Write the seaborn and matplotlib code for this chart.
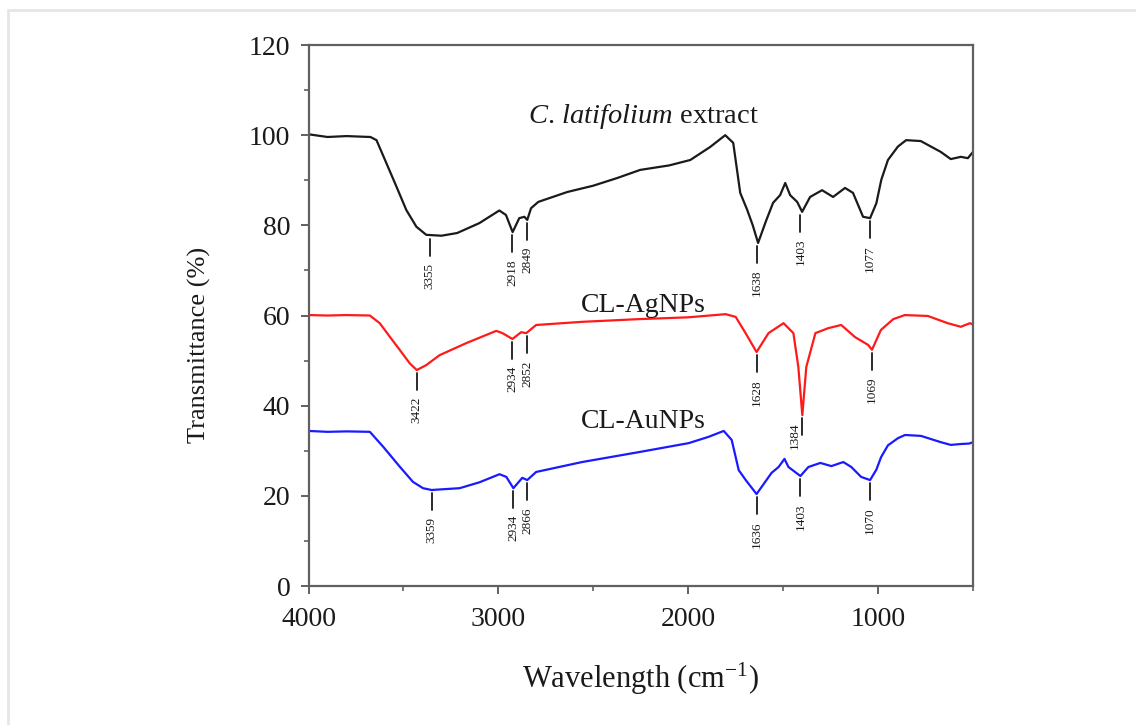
import matplotlib
matplotlib.use('Agg')
import matplotlib.pyplot as plt
from matplotlib.ticker import MultipleLocator
from matplotlib.lines import Line2D
import seaborn as sns
import pandas as pd

# FTIR spectra (wavenumber, transmittance %)
extract_wn = [4000, 3900, 3800, 3674, 3642, 3590, 3537, 3485, 3432, 3380, 3300, 3217, 3100,
              2995, 2960, 2925, 2890, 2863, 2848, 2828, 2790, 2637, 2500, 2374, 2253, 2100,
              1989, 1884, 1805, 1763, 1726, 1689, 1660, 1632, 1590, 1553, 1516, 1489, 1463,
              1426, 1400, 1358, 1295, 1237, 1174, 1132, 1079, 1042, 1009, 983, 948, 895, 852,
              775, 670, 617, 564, 527, 500]
extract_t = [100.2, 99.6, 99.8, 99.6, 98.9, 93.8, 88.6, 83.4, 79.7, 77.9, 77.7, 78.3, 80.5,
             83.3, 82.3, 78.5, 81.6, 81.9, 81.2, 83.8, 85.2, 87.4, 88.8, 90.5, 92.3, 93.3,
             94.5, 97.4, 100.0, 98.3, 87.2, 83.4, 80.0, 76.1, 81.0, 85.0, 86.7, 89.4, 86.7,
             85.2, 83.0, 86.3, 87.8, 86.3, 88.3, 87.2, 81.9, 81.6, 84.9, 90.1, 94.5, 97.5,
             98.9, 98.7, 96.3, 94.7, 95.2, 94.9, 96.3]

agnp_wn = [4000, 3900, 3800, 3677, 3625, 3572, 3520, 3467, 3430, 3380, 3310, 3168, 3011,
           2979, 2926, 2880, 2853, 2801, 2559, 2260, 2000, 1803, 1750, 1698, 1640, 1577,
           1498, 1446, 1420, 1399, 1378, 1330, 1262, 1194, 1121, 1053, 1032, 985, 920, 859,
           738, 633, 564, 516, 500]
agnp_t = [60.1, 60.0, 60.1, 60.0, 58.3, 55.3, 52.4, 49.4, 47.9, 49.0, 51.2, 53.9, 56.6,
          56.1, 54.8, 56.3, 56.1, 57.9, 58.6, 59.2, 59.6, 60.3, 59.7, 56.1, 51.9, 56.1,
          58.3, 56.1, 48.6, 37.9, 48.6, 56.1, 57.2, 57.9, 55.2, 53.5, 52.4, 56.8, 59.2,
          60.1, 59.9, 58.3, 57.5, 58.3, 58.0]

aunp_wn = [4000, 3900, 3800, 3677, 3607, 3520, 3450, 3397, 3352, 3204, 3100, 2994, 2958,
           2921, 2874, 2848, 2801, 2559, 2260, 1997, 1892, 1813, 1771, 1734, 1697, 1640,
           1561, 1524, 1493, 1472, 1409, 1367, 1304, 1246, 1183, 1141, 1089, 1042, 1009,
           984, 948, 895, 858, 774, 669, 617, 564, 520, 500]
aunp_t = [34.4, 34.2, 34.3, 34.2, 30.9, 26.5, 23.1, 21.7, 21.3, 21.7, 23.0, 24.8, 24.2,
          21.7, 24.0, 23.5, 25.3, 27.5, 29.7, 31.7, 33.1, 34.4, 32.4, 25.7, 23.5, 20.4,
          25.1, 26.4, 28.2, 26.4, 24.4, 26.4, 27.3, 26.6, 27.5, 26.4, 24.2, 23.5, 25.8,
          28.6, 31.2, 32.8, 33.5, 33.3, 31.9, 31.3, 31.5, 31.6, 31.9]

series_names = ['C. latifolium extract', 'CL-AgNPs', 'CL-AuNPs']
series_colors = ['#1a1a1a', '#ff1a1a', '#1a1aff']

# band positions (as drawn), printed labels, curve value at the band
extract_pk = [3362, 2926, 2848, 1640, 1409, 1042]
extract_lab = ['3355', '2918', '2849', '1638', '1403', '1077']
extract_pk_t = [77.7, 78.5, 81.2, 76.1, 83.0, 81.6]
agnp_pk = [3430, 2926, 2848, 1640, 1399, 1032]
agnp_lab = ['3422', '2934', '2852', '1628', '1384', '1069']
agnp_pk_t = [47.9, 54.8, 56.1, 51.9, 37.9, 52.4]
aunp_pk = [3352, 2921, 2848, 1640, 1409, 1042]
aunp_lab = ['3359', '2934', '2866', '1636', '1403', '1070']
aunp_pk_t = [21.3, 21.7, 23.5, 20.4, 24.4, 23.5]

df = pd.concat([
    pd.DataFrame({'wn': extract_wn, 't': extract_t, 'sample': series_names[0]}),
    pd.DataFrame({'wn': agnp_wn, 't': agnp_t, 'sample': series_names[1]}),
    pd.DataFrame({'wn': aunp_wn, 't': aunp_t, 'sample': series_names[2]}),
], ignore_index=True)

sns.set_theme(style='ticks')
plt.rcParams['font.family'] = ['Liberation Serif', 'DejaVu Serif']
plt.rcParams['mathtext.fontset'] = 'custom'
plt.rcParams['mathtext.rm'] = 'Liberation Serif'
plt.rcParams['mathtext.it'] = 'Liberation Serif:italic'

fig = plt.figure(figsize=(11.36, 7.25), dpi=100)
ax = fig.add_axes([0.2716, 0.1917, 0.5849, 0.7462])

sns.lineplot(data=df, x='wn', y='t', hue='sample', palette=series_colors,
             estimator=None, sort=False, linewidth=1.6, legend=False, ax=ax)

ax.set_xlim(4000, 500)
ax.set_ylim(0, 120)
ax.xaxis.set_major_locator(MultipleLocator(1000))
ax.xaxis.set_minor_locator(MultipleLocator(500))
ax.yaxis.set_major_locator(MultipleLocator(20))
ax.yaxis.set_minor_locator(MultipleLocator(10))

frame_col = '#606060'
text_col = '#1a1a1a'
for sp in ax.spines.values():
    sp.set_visible(True)
    sp.set_color(frame_col)
    sp.set_linewidth(1.6)
ax.tick_params(which='major', direction='out', length=6, width=1.4, color=frame_col,
               labelsize=20, pad=7, labelcolor=text_col)
ax.tick_params(axis='x', which='major', pad=9)
ax.tick_params(which='minor', direction='out', length=3.5, width=1.2, color=frame_col)

ax.set_xlabel(r'Wavelength (cm$^{\mathregular{-1}}$)', fontsize=22, labelpad=21, color=text_col)
ax.set_ylabel('Transmittance (%)', fontsize=19, color=text_col)
ax.yaxis.set_label_coords(-0.147, 0.445)

# sample names
ax.text(2236, 102.7, r'$\mathit{C.\,latifolium}$ extract', fontsize=20.5, ha='center',
        va='baseline', color=text_col)
ax.text(2236, 60.8, 'CL-AgNPs', fontsize=20, ha='center', va='baseline', color=text_col)
ax.text(2236, 35.0, 'CL-AuNPs', fontsize=20, ha='center', va='baseline', color=text_col)

# band markers and labels
for pks, labs, vals in [(extract_pk, extract_lab, extract_pk_t),
                        (agnp_pk, agnp_lab, agnp_pk_t),
                        (aunp_pk, aunp_lab, aunp_pk_t)]:
    for p, lab, v in zip(pks, labs, vals):
        ax.plot([p, p], [v - 0.7, v - 4.5], color=text_col, linewidth=1.3)
        if lab == '1384':
            ax.text(p + 40, v - 1.6, lab, rotation=90, fontsize=9.5, ha='center', va='top',
                    color=text_col)
        else:
            ax.text(p, v - 6.0, lab, rotation=90, fontsize=9.5, ha='center', va='top',
                    color=text_col)

# faint border of the original screenshot (top and left edges only)
fig.add_artist(Line2D([8 / 1136, 1], [1 - 10 / 725, 1 - 10 / 725], color='#e6e6e6',
                      linewidth=2, transform=fig.transFigure))
fig.add_artist(Line2D([8 / 1136, 8 / 1136], [0, 1 - 10 / 725], color='#e6e6e6',
                      linewidth=2, transform=fig.transFigure))

fig.savefig('out.png', dpi=100)
